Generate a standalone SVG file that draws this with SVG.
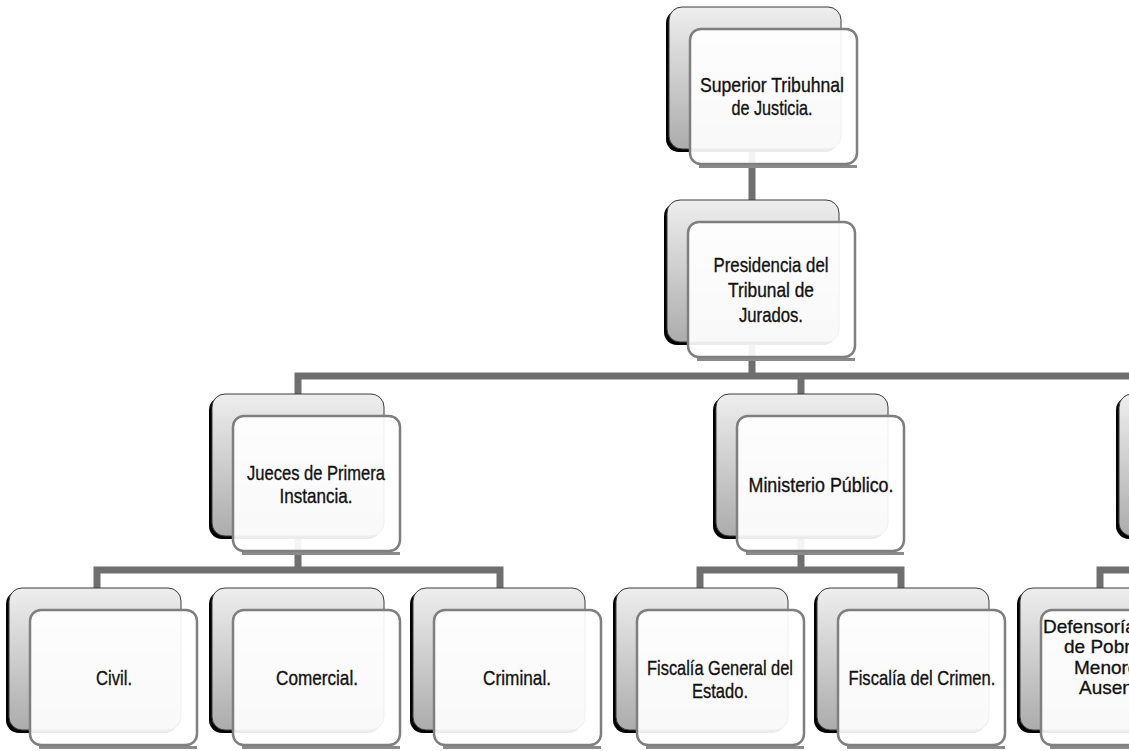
<svg xmlns="http://www.w3.org/2000/svg" xmlns:xlink="http://www.w3.org/1999/xlink" width="1129" height="751" viewBox="0 0 1129 751">
  <style>
    .wire { fill: none; stroke: #6f6f6f; stroke-width: 7; stroke-linejoin: miter; }
    .lbl { font-family: "Liberation Sans", Arial, sans-serif; font-size: 21px; fill: #111111; stroke: #111111; stroke-width: 0.35; text-anchor: middle; }
    .lbl-sm { font-family: "Liberation Sans", Arial, sans-serif; font-size: 19px; fill: #111111; stroke: #111111; stroke-width: 0.3; }
  </style>
  <defs>
    <linearGradient id="backFill" x1="0" y1="0" x2="0" y2="1">
      <stop offset="0" stop-color="#eeeeee"/>
      <stop offset="1" stop-color="#acacac"/>
    </linearGradient>
    <!-- stacked card: shaded back plate with dark drop edge, translucent white front plate -->
    <g id="card">
      <rect x="-3" y="3" width="172" height="142" rx="13" fill="#000"/>
      <rect x="0" y="0" width="172" height="142" rx="13" fill="url(#backFill)" stroke="#3a3a3a" stroke-width="1"/>
      <path d="M30,159.5 H188" stroke="#8a8a8a" stroke-width="3" fill="none"/>
      <rect x="21" y="22" width="167" height="135" rx="11" fill="#ffffff" fill-opacity="0.92" stroke="#7f7f7f" stroke-width="2.5"/>
    </g>
  </defs>

  <rect width="1129" height="751" fill="#ffffff"/>

  <g id="connectors">
    <path class="wire" d="M752,140 V376"/>
    <path class="wire" d="M298,400 V376 H1129"/>
    <path class="wire" d="M801,376 V400"/>
    <path class="wire" d="M298,530 V570"/>
    <path class="wire" d="M97,594 V570 H500 V594"/>
    <path class="wire" d="M801,530 V570"/>
    <path class="wire" d="M700,594 V570 H901 V594"/>
    <path class="wire" d="M1100,594 V570 H1129"/>
  </g>

  <g id="superior-tribunal">
    <use xlink:href="#card" x="669" y="7"/>
    <text class="lbl" x="772" y="92" textLength="144" lengthAdjust="spacingAndGlyphs">Superior Tribuhnal</text>
    <text class="lbl" x="772" y="115" textLength="81" lengthAdjust="spacingAndGlyphs">de Justicia.</text>
  </g>

  <g id="presidencia">
    <use xlink:href="#card" x="667" y="200"/>
    <text class="lbl" x="771" y="272" textLength="115" lengthAdjust="spacingAndGlyphs">Presidencia del</text>
    <text class="lbl" x="771" y="297" textLength="86" lengthAdjust="spacingAndGlyphs">Tribunal de</text>
    <text class="lbl" x="771" y="322" textLength="64" lengthAdjust="spacingAndGlyphs">Jurados.</text>
  </g>

  <g id="jueces">
    <use xlink:href="#card" x="212" y="394"/>
    <text class="lbl" x="316" y="480" textLength="138" lengthAdjust="spacingAndGlyphs">Jueces de Primera</text>
    <text class="lbl" x="316" y="503" textLength="73" lengthAdjust="spacingAndGlyphs">Instancia.</text>
  </g>

  <g id="ministerio">
    <use xlink:href="#card" x="716" y="394"/>
    <text class="lbl" x="821" y="492" textLength="145" lengthAdjust="spacingAndGlyphs">Ministerio Público.</text>
  </g>

  <g id="third-branch">
    <use xlink:href="#card" x="1119" y="394"/>
  </g>

  <g id="civil">
    <use xlink:href="#card" x="9" y="588"/>
    <text class="lbl" x="114" y="685" textLength="36" lengthAdjust="spacingAndGlyphs">Civil.</text>
  </g>

  <g id="comercial">
    <use xlink:href="#card" x="212" y="588"/>
    <text class="lbl" x="317" y="685" textLength="82" lengthAdjust="spacingAndGlyphs">Comercial.</text>
  </g>

  <g id="criminal">
    <use xlink:href="#card" x="413" y="588"/>
    <text class="lbl" x="517" y="685" textLength="68" lengthAdjust="spacingAndGlyphs">Criminal.</text>
  </g>

  <g id="fiscalia-general">
    <use xlink:href="#card" x="616" y="588"/>
    <text class="lbl" x="720" y="675" textLength="146" lengthAdjust="spacingAndGlyphs">Fiscalía General del</text>
    <text class="lbl" x="720" y="698" textLength="56" lengthAdjust="spacingAndGlyphs">Estado.</text>
  </g>

  <g id="fiscalia-crimen">
    <use xlink:href="#card" x="817" y="588"/>
    <text class="lbl" x="922" y="685" textLength="147" lengthAdjust="spacingAndGlyphs">Fiscalía del Crimen.</text>
  </g>

  <!-- this card runs past the right edge of the canvas, so its lines are cut there -->
  <g id="defensoria">
    <use xlink:href="#card" x="1020" y="588"/>
    <text class="lbl-sm" x="1043" y="633">Defensoría</text>
    <text class="lbl-sm" x="1064" y="653">de Pobres,</text>
    <text class="lbl-sm" x="1074" y="674">Menores y</text>
    <text class="lbl-sm" x="1079" y="694">Ausentes.</text>
  </g>
</svg>
